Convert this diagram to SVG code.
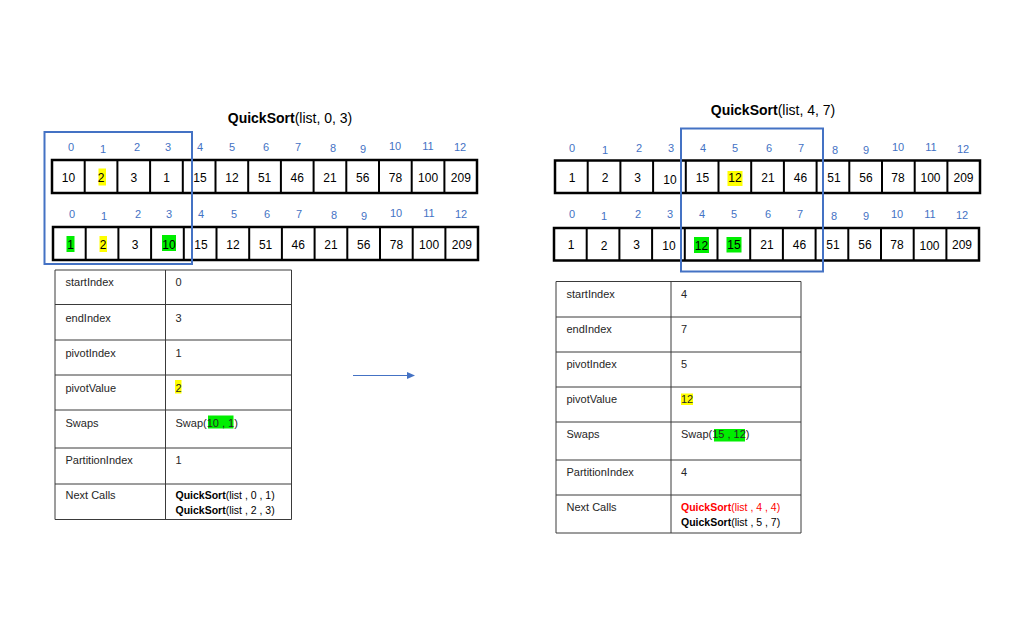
<svg xmlns="http://www.w3.org/2000/svg" width="1021" height="643" viewBox="0 0 1021 643">
<style>
.bg{fill:#ffffff}
.arr{fill:#ffffff;stroke:#000;stroke-width:2.5}
.div{stroke:#000;stroke-width:2}
.num{font-family:"Liberation Sans",Arial,sans-serif;font-size:12px;fill:#000;text-anchor:middle}
.idx{font-family:"Liberation Sans",Arial,sans-serif;font-size:11px;fill:#4472C4;text-anchor:middle}
.title{font-family:"Liberation Sans",Arial,sans-serif;font-size:14px;fill:#000;text-anchor:middle}
.b{font-weight:bold}
.sel{fill:none;stroke:#4472C4;stroke-width:2}
.tbl{fill:none;stroke:#3a3a3a;stroke-width:1}
.lbl{font-family:"Liberation Sans",Arial,sans-serif;font-size:11px;fill:#262626}
.nc{font-family:"Liberation Sans",Arial,sans-serif;font-size:10.5px;fill:#000}
.red{fill:#ff0000}
.yel{fill:#ffff00}
.grn{fill:#00ee00}
.conn{stroke:#4472C4;stroke-width:1.2;fill:none}
</style>
<defs>
<marker id="ah" markerWidth="8" markerHeight="8" refX="7" refY="4" orient="auto" markerUnits="userSpaceOnUse">
<path d="M0,0.5 L8,4 L0,7.5 Z" fill="#4472C4"/>
</marker>
</defs>
<rect class="bg" x="0" y="0" width="1021" height="643"/>

<!-- LEFT PANEL -->
<g id="left-title">
<text class="title" x="290" y="123"><tspan class="b">QuickSort</tspan>(list, 0, 3)</text>
</g>

<g id="left-array-1">
<rect class="arr" x="52" y="160" width="425" height="33"/>
<path class="div" d="M84.7,160V193M117.4,160V193M150.1,160V193M182.8,160V193M215.5,160V193M248.2,160V193M280.9,160V193M313.6,160V193M346.3,160V193M379,160V193M411.7,160V193M444.4,160V193"/>
<rect class="yel" x="98.5" y="168.5" width="7.5" height="17"/>
<g class="idx">
<text x="71" y="151">0</text><text x="103" y="153">1</text><text x="137" y="151">2</text><text x="168" y="151">3</text>
<text x="200" y="151">4</text><text x="232" y="151">5</text><text x="266" y="151">6</text><text x="298" y="151">7</text>
<text x="333" y="152">8</text><text x="363" y="153">9</text><text x="395" y="150">10</text><text x="428" y="150">11</text><text x="460" y="151">12</text>
</g>
<g class="num">
<text x="68.4" y="181.5">10</text><text x="101.1" y="181.5">2</text><text x="133.8" y="181.5">3</text><text x="166.5" y="181.5">1</text>
<text x="200" y="181.5">15</text><text x="231.9" y="181.5">12</text><text x="264.6" y="181.5">51</text><text x="297.3" y="181.5">46</text>
<text x="330" y="181.5">21</text><text x="362.7" y="181.5">56</text><text x="395.4" y="181.5">78</text><text x="428.1" y="181.5">100</text><text x="460.8" y="181.5">209</text>
</g>
</g>

<g id="left-array-2">
<rect class="arr" x="53" y="227" width="425" height="33"/>
<path class="div" d="M85.7,227V260M118.4,227V260M151.1,227V260M183.8,227V260M216.5,227V260M249.2,227V260M281.9,227V260M314.6,227V260M347.3,227V260M380,227V260M412.7,227V260M445.4,227V260"/>
<rect class="grn" x="66.5" y="236" width="8" height="16"/>
<rect class="yel" x="99.5" y="236" width="7.5" height="16"/>
<rect class="grn" x="162" y="235" width="14" height="16"/>
<g class="idx">
<text x="72" y="218">0</text><text x="104" y="220">1</text><text x="138" y="218">2</text><text x="169" y="218">3</text>
<text x="201" y="218">4</text><text x="234" y="218">5</text><text x="267" y="218">6</text><text x="299" y="218">7</text>
<text x="334" y="219">8</text><text x="364" y="220">9</text><text x="396" y="217">10</text><text x="429" y="217">11</text><text x="461" y="218">12</text>
</g>
<g class="num">
<text x="70.6" y="248.5">1</text><text x="103" y="248.5">2</text><text x="135" y="248.5">3</text><text x="169" y="248.5">10</text>
<text x="201" y="248.5">15</text><text x="232.9" y="248.5">12</text><text x="265.6" y="248.5">51</text><text x="298.3" y="248.5">46</text>
<text x="331" y="248.5">21</text><text x="363.7" y="248.5">56</text><text x="396.4" y="248.5">78</text><text x="429.1" y="248.5">100</text><text x="461.8" y="248.5">209</text>
</g>
</g>

<g id="left-selection">
<rect class="sel" x="44.5" y="132" width="147.5" height="132"/>
</g>

<g id="left-table">
<path class="tbl" d="M55,270H291.5M55,304.5H291.5M55,340H291.5M55,375H291.5M55,410H291.5M55,448H291.5M55,484H291.5M55,519.5H291.5M55,270V519.5M165.5,270V519.5M291.5,270V519.5"/>
<rect class="yel" x="175" y="380" width="6.5" height="13.5"/>
<rect class="grn" x="208" y="415.5" width="25.5" height="13"/>
<g class="lbl">
<text x="65.5" y="286">startIndex</text><text x="175.5" y="286">0</text>
<text x="65.5" y="321.5">endIndex</text><text x="175.5" y="321.5">3</text>
<text x="65.5" y="357">pivotIndex</text><text x="175.5" y="357">1</text>
<text x="65.5" y="391.5">pivotValue</text><text x="175.5" y="391.5">2</text>
<text x="65.5" y="426.5">Swaps</text><text x="175.5" y="426.5">Swap(10 , 1)</text>
<text x="65.5" y="464">PartitionIndex</text><text x="175.5" y="464">1</text>
<text x="65.5" y="499">Next Calls</text>
</g>
<g class="nc">
<text x="175.5" y="499"><tspan class="b">QuickSort</tspan>(list , 0 , 1)</text>
<text x="175.5" y="514"><tspan class="b">QuickSort</tspan>(list , 2 , 3)</text>
</g>
</g>

<!-- RIGHT PANEL -->
<g id="right-title">
<text class="title" x="773" y="115"><tspan class="b">QuickSort</tspan>(list, 4, 7)</text>
</g>

<g id="right-array-1">
<rect class="arr" x="555" y="160.5" width="425" height="32.5"/>
<path class="div" d="M587.7,160.5V193M620.4,160.5V193M653.1,160.5V193M685.8,160.5V193M718.5,160.5V193M751.2,160.5V193M783.9,160.5V193M816.6,160.5V193M849.3,160.5V193M882,160.5V193M914.7,160.5V193M947.4,160.5V193"/>
<rect class="yel" x="727.5" y="171" width="15" height="15"/>
<g class="idx">
<text x="572" y="152">0</text><text x="605" y="154">1</text><text x="639" y="152">2</text><text x="671" y="152">3</text>
<text x="703" y="152">4</text><text x="735" y="152">5</text><text x="769" y="152">6</text><text x="801" y="152">7</text>
<text x="835" y="154">8</text><text x="866" y="154">9</text><text x="898" y="151">10</text><text x="931" y="151">11</text><text x="963" y="153">12</text>
</g>
<g class="num">
<text x="572" y="182">1</text><text x="605" y="182">2</text><text x="637.5" y="182">3</text><text x="670" y="183.5">10</text>
<text x="702.5" y="182">15</text><text x="735" y="182">12</text><text x="768" y="182">21</text><text x="800.5" y="182">46</text>
<text x="834" y="182">51</text><text x="866" y="182">56</text><text x="898" y="182">78</text><text x="930.5" y="182">100</text><text x="963.5" y="182">209</text>
</g>
</g>

<g id="right-array-2">
<rect class="arr" x="554" y="228" width="425" height="32.5"/>
<path class="div" d="M586.7,228V260.5M619.4,228V260.5M652.1,228V260.5M684.8,228V260.5M717.5,228V260.5M750.2,228V260.5M782.9,228V260.5M815.6,228V260.5M848.3,228V260.5M881,228V260.5M913.7,228V260.5M946.4,228V260.5"/>
<rect class="grn" x="694" y="237" width="15" height="16"/>
<rect class="grn" x="726.5" y="237" width="15" height="15.5"/>
<g class="idx">
<text x="572" y="218">0</text><text x="604" y="220">1</text><text x="638" y="218">2</text><text x="670" y="218">3</text>
<text x="702" y="218">4</text><text x="734" y="218">5</text><text x="768" y="218">6</text><text x="800" y="218">7</text>
<text x="834" y="220">8</text><text x="866" y="220">9</text><text x="897" y="218">10</text><text x="930" y="218">11</text><text x="962" y="219">12</text>
</g>
<g class="num">
<text x="571" y="249">1</text><text x="604" y="250">2</text><text x="636.5" y="248.5">3</text><text x="669" y="250">10</text>
<text x="701.5" y="250">12</text><text x="734" y="249">15</text><text x="767" y="249">21</text><text x="799.5" y="249">46</text>
<text x="833" y="249">51</text><text x="865" y="249">56</text><text x="897" y="249">78</text><text x="929.5" y="250">100</text><text x="962" y="249">209</text>
</g>
</g>

<g id="right-selection">
<rect class="sel" x="681" y="128.5" width="142" height="143"/>
</g>

<g id="right-table">
<path class="tbl" d="M556,281.5H801M556,317H801M556,352H801M556,387H801M556,422H801M556,460H801M556,495H801M556,533H801M556,281.5V533M671,281.5V533M801,281.5V533"/>
<rect class="yel" x="681" y="393.5" width="12" height="11.5"/>
<rect class="grn" x="714" y="429" width="31" height="12.5"/>
<g class="lbl">
<text x="566.5" y="298">startIndex</text><text x="681" y="298">4</text>
<text x="566.5" y="333">endIndex</text><text x="681" y="333">7</text>
<text x="566.5" y="368">pivotIndex</text><text x="681" y="368">5</text>
<text x="566.5" y="403">pivotValue</text><text x="681" y="403">12</text>
<text x="566.5" y="438">Swaps</text><text x="681" y="438">Swap(15 , 12)</text>
<text x="566.5" y="476">PartitionIndex</text><text x="681" y="476">4</text>
<text x="566.5" y="511">Next Calls</text>
</g>
<g class="nc">
<text x="681" y="511" class="nc red"><tspan class="b">QuickSort</tspan>(list , 4 , 4)</text>
<text x="681" y="526"><tspan class="b">QuickSort</tspan>(list , 5 , 7)</text>
</g>
</g>

<g id="connectors">
<line class="conn" x1="353" y1="375.5" x2="414" y2="375.5" marker-end="url(#ah)"/>
</g>
</svg>
